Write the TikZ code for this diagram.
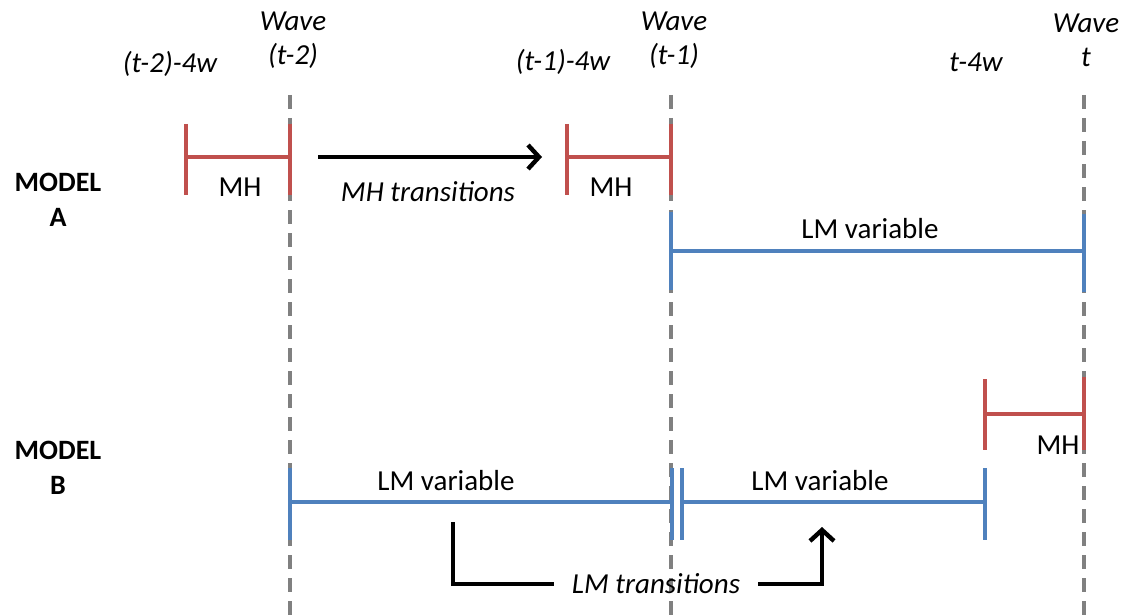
\documentclass[tikz,border=0pt]{standalone}
\usepackage{fontspec}
\setmainfont{Carlito}
\usetikzlibrary{arrows.meta, positioning}
\definecolor{mhred}{RGB}{192,80,77}
\definecolor{lmblue}{RGB}{79,129,189}
\definecolor{wavegray}{RGB}{128,128,128}
\tikzset{
  wavelabel/.style={font=\fontsize{14.5}{17}\selectfont\itshape, align=center, inner sep=0pt},
  modellabel/.style={font=\fontsize{14}{17.5}\selectfont\bfseries, align=center, inner sep=0pt},
  spanlabel/.style={font=\fontsize{14.5}{16}\selectfont, inner sep=0pt},
  translabel/.style={font=\fontsize{14.5}{16}\selectfont\itshape, inner sep=0pt},
  waveline/.style={dash pattern=on 7pt off 4.5pt, line width=1.6pt, color=wavegray},
  mhspan/.style={line width=1.8pt, color=mhred},
  lmspan/.style={line width=1.8pt, color=lmblue},
  tick/.style={line width=2.4pt},
  transline/.style={line width=2.2pt, black},
  transarrow/.style={-{Straight Barb[length=5.5pt,width=12pt]}, line width=2.2pt, black},
}
\begin{document}
\begin{tikzpicture}[x=0.5pt, y=-0.5pt]
  \useasboundingbox (0,0) rectangle (1124,615);

  % waves
  \coordinate (w2) at (290,95);
  \coordinate (w1) at (671,95);
  \coordinate (w0) at (1084,95);
  \draw[waveline] (w2) -- (290,615);
  \draw[waveline] (w1) -- (671,615);
  \draw[waveline] (w0) -- (1084,615);

  \node[wavelabel] (wave2) at (293,40) {Wave\\(t-2)};
  \node[wavelabel] (wave1) at (674,40) {Wave\\(t-1)};
  \node[wavelabel] (wave0) at (1086,40) {Wave\\t};
  \node[wavelabel] (back2) at (170,64) {(t-2)-4w};
  \node[wavelabel] (back1) at (563,62) {(t-1)-4w};
  \node[wavelabel] (back0) at (976,62) {t-4w};

  % model A
  \node[modellabel] (modelA) at (58,200) {MODEL\\A};
  \draw[mhspan, tick] (186,124) -- (186,195) (290,124) -- (290,195);
  \draw[mhspan] (186,157) -- (290,157);
  \node[spanlabel] (mhA1) at (240,187) {MH};
  \draw[mhspan, tick] (567,124) -- (567,195) (671,124) -- (671,195);
  \draw[mhspan] (567,157) -- (671,157);
  \node[spanlabel] (mhA2) at (611,187) {MH};
  \coordinate (mhtStart) at (318,157);
  \coordinate (mhtEnd) at (542,157);
  \draw[transarrow] (mhtStart) -- (mhtEnd);
  \node[translabel] (mhtrans) at (428,192) {MH transitions};

  \draw[lmspan, tick] (671,212) -- (671,290) (1084,214) -- (1084,292);
  \draw[lmspan] (671,251) -- (1084,251);
  \node[spanlabel] (lmA) at (870,229) {LM variable};

  % model B
  \node[modellabel] (modelB) at (58,468) {MODEL\\B};
  \draw[mhspan, tick] (985,379) -- (985,450) (1084,377) -- (1084,450);
  \draw[mhspan] (985,414) -- (1084,414);
  \node[spanlabel] (mhB) at (1058,445) {MH};

  \draw[lmspan, tick] (290,468) -- (290,540) (672,468) -- (672,540);
  \draw[lmspan] (290,502) -- (672,502);
  \node[spanlabel] (lmB1) at (446,481) {LM variable};
  \draw[lmspan, tick] (682,468) -- (682,540) (985,468) -- (985,540);
  \draw[lmspan] (682,502) -- (985,502);
  \node[spanlabel] (lmB2) at (820,481) {LM variable};

  \node[translabel, outer sep=9pt] (lmtrans) at (656,584) {LM transitions};
  \coordinate (lmtStart) at (453,522);
  \coordinate (lmtEnd) at (822,527);
  \draw[transline] (lmtStart) |- (lmtrans.west);
  \draw[transarrow] (lmtrans.east) -| (lmtEnd);
\end{tikzpicture}
\end{document}
